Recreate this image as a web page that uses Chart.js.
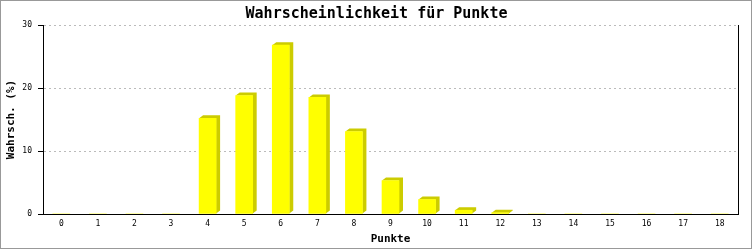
<!DOCTYPE html>
<html>
<head>
<meta charset="utf-8">
<script src="https://cdn.jsdelivr.net/npm/chart.js@4"></script>
<style>
  body { margin: 0; background: #fff; }
  #wrap { position: relative; width: 753px; height: 250px; }
  #rahmen { position: absolute; left: 0; top: 0; width: 750px; height: 247px; border: 1px solid #999; pointer-events: none; }
</style>
</head>
<body>
<div id="wrap">
  <canvas id="chart" width="753" height="250"></canvas>
  <div id="rahmen"></div>
</div>
<script>
// --- DATOS ---
const punkte = ["0","1","2","3","4","5","6","7","8","9","10","11","12","13","14","15","16","17","18"];
const wahrsch = [0, 0, 0, 0, 15.2, 18.8, 26.8, 18.5, 13.1, 5.3, 2.3, 0.6, 0.2, 0, 0, 0, 0, 0, 0];
const yTicks = [0, 10, 20, 30];

const monoFont = "'DejaVu Sans Mono', 'Liberation Mono', monospace";

// --- EFECTO 3D DE LAS BARRAS ---
const barras3d = {
  id: "barras3d",
  beforeDatasetDraw(chart, args) {
    const meta = args.meta;
    const ctx = chart.ctx;
    const dx = 4, dy = 3;
    ctx.save();
    ctx.fillStyle = "#cccc00";
    meta.data.forEach((bar, i) => {
      if (!wahrsch[i]) return;
      const { x, y, base, width } = bar.getProps(["x", "y", "base", "width"], true);
      const left = x - width / 2, right = x + width / 2;
      ctx.beginPath();
      ctx.moveTo(left, y);
      ctx.lineTo(left + dx, y - dy);
      ctx.lineTo(right + dx, y - dy);
      ctx.lineTo(right + dx, base - dy);
      ctx.lineTo(right, base);
      ctx.lineTo(right, y);
      ctx.closePath();
      ctx.fill();
    });
    ctx.restore();
  }
};

new Chart(document.getElementById("chart"), {
  type: "bar",
  data: {
    labels: punkte,
    datasets: [{
      data: wahrsch,
      backgroundColor: "#ffff00",
      borderWidth: 0,
      barThickness: 17
    }]
  },
  options: {
    responsive: false,
    animation: false,
    layout: { padding: 0 },
    plugins: {
      legend: { display: false },
      tooltip: { enabled: false },
      title: {
        display: true,
        text: "Wahrscheinlichkeit für Punkte",
        color: "#000",
        font: { family: monoFont, size: 15, weight: "bold" },
        padding: { top: 5, bottom: 2 }
      }
    },
    scales: {
      x: {
        offset: true,
        grid: { display: false, drawTicks: false },
        border: { display: true, color: "#000", width: 1 },
        ticks: { color: "#000", padding: 5, font: { family: monoFont, size: 8 }, maxRotation: 0, autoSkip: false },
        title: {
          display: true,
          text: "Punkte",
          color: "#000",
          font: { family: monoFont, size: 11, weight: "bold" },
          padding: { top: 0, bottom: 4 }
        },
        afterFit(scale) { scale.height = 36; }
      },
      y: {
        min: 0,
        max: 30,
        afterBuildTicks(scale) { scale.ticks = yTicks.map(v => ({ value: v })); },
        grid: { color: "#bbbbbb", tickColor: "#000", tickLength: 5, drawTicks: true },
        border: { display: true, color: "#000", width: 1, dash: [2, 3] },
        ticks: { color: "#000", padding: 6, font: { family: monoFont, size: 8 } },
        title: {
          display: true,
          text: "Wahrsch. (%)",
          color: "#000",
          font: { family: monoFont, size: 11, weight: "bold" },
          padding: { top: 5, bottom: 0 }
        },
        afterFit(scale) { scale.width = 43; }
      },
      // eje derecho solo para la linea de borde
      yDer: {
        position: "right",
        min: 0,
        max: 30,
        grid: { display: false, drawTicks: false },
        border: { display: true, color: "#000", width: 1 },
        ticks: { display: false },
        afterFit(scale) { scale.width = 15; }
      }
    }
  },
  plugins: [barras3d]
});
</script>
</body>
</html>
